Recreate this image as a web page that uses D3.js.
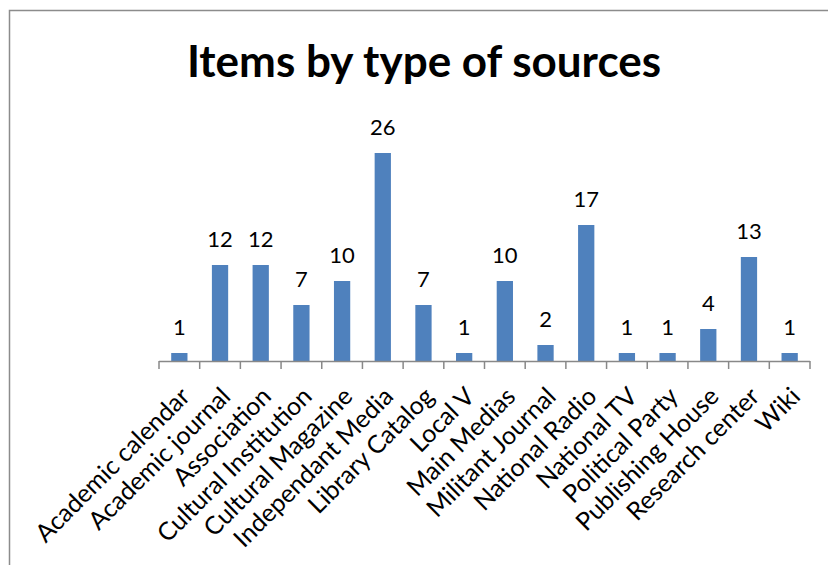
<!DOCTYPE html>
<html>
<head>
<meta charset="utf-8">
<script src="https://cdn.jsdelivr.net/npm/d3@7"></script>
<style>
  body { margin: 0; background: #fff; }
  text { font-family: Lato, "Open Sans", sans-serif; fill: #000; }
</style>
</head>
<body>
<script>
// data
const categories = ['Academic calendar', 'Academic journal', 'Association', 'Cultural Institution',
  'Cultural Magazine', 'Independant Media', 'Library Catalog', 'Local V', 'Main Medias',
  'Militant Journal', 'National Radio', 'National TV', 'Political Party', 'Publishing House',
  'Research center', 'Wiki'];
const counts = [1, 12, 12, 7, 10, 26, 7, 1, 10, 2, 17, 1, 1, 4, 13, 1];
const title = 'Items by type of sources';

const width = 828, height = 565;
const plot = { left: 159, right: 810, top: 121, bottom: 361 };

const svg = d3.select('body').append('svg')
  .attr('width', width)
  .attr('height', height);

// chart frame (cut off at the right and bottom)
svg.append('rect')
  .attr('x', 9.5).attr('y', 10.5)
  .attr('width', 840).attr('height', 600)
  .attr('fill', 'none')
  .attr('stroke', '#8c8c8c')
  .attr('stroke-width', 1.5);

svg.append('text')
  .attr('x', 424).attr('y', 77)
  .attr('text-anchor', 'middle')
  .style('font-size', '44px')
  .style('font-weight', 'bold')
  .text(title);

const x = d3.scaleBand()
  .domain(categories)
  .range([plot.left, plot.right])
  .paddingInner(0.6)
  .paddingOuter(0.3);

const y = d3.scaleLinear()
  .domain([0, 30])
  .range([plot.bottom, plot.top]);

const data = categories.map((c, i) => ({ name: c, value: counts[i] }));

svg.selectAll('.bar')
  .data(data)
  .enter().append('rect')
  .attr('class', 'bar')
  .attr('x', d => x(d.name))
  .attr('y', d => y(d.value))
  .attr('width', x.bandwidth())
  .attr('height', d => y(0) - y(d.value))
  .attr('fill', '#4f81bd');

svg.selectAll('.val')
  .data(data)
  .enter().append('text')
  .attr('class', 'val')
  .attr('x', d => x(d.name) + x.bandwidth() / 2)
  .attr('y', d => y(d.value) - 18)
  .attr('text-anchor', 'middle')
  .style('font-size', '22px')
  .text(d => d.value);

// category axis: line + ticks at band edges
const step = x.step();
const edges = d3.range(categories.length + 1).map(i => plot.left + i * step);
const axis = svg.append('g');
axis.append('line')
  .attr('x1', plot.left).attr('x2', plot.right)
  .attr('y1', plot.bottom + 0.5).attr('y2', plot.bottom + 0.5)
  .attr('stroke', '#888').attr('stroke-width', 1.5);
axis.selectAll('.tick')
  .data(edges)
  .enter().append('line')
  .attr('x1', d => d).attr('x2', d => d)
  .attr('y1', plot.bottom).attr('y2', plot.bottom + 8)
  .attr('stroke', '#888').attr('stroke-width', 1.5);

axis.selectAll('.lab')
  .data(categories)
  .enter().append('text')
  .attr('class', 'lab')
  .attr('text-anchor', 'end')
  .attr('transform', d => `translate(${x(d) + x.bandwidth() / 2 + 12},${plot.bottom + 37}) rotate(-45)`)
  .style('font-size', '25px')
  .text(d => d);
</script>
</body>
</html>
